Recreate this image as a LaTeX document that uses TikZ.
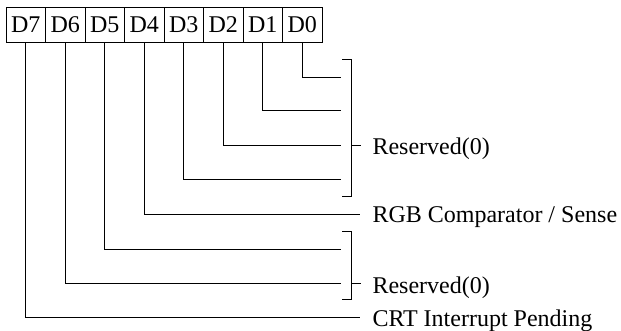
\documentclass[tikz,border=0pt]{standalone}
\usepackage{fontspec}
\setmainfont{Liberation Serif}
\begin{document}
\begin{tikzpicture}[x=1pt,y=-1pt,line width=1pt,
  cell/.style={draw,minimum width=39.5pt,minimum height=35.5pt,inner sep=0pt,font=\fontsize{24}{26}\selectfont},
  lbl/.style={anchor=base west,inner sep=0pt,font=\fontsize{24}{26}\selectfont},
  wire/.style={draw,line width=1pt}]
\useasboundingbox (0,0) rectangle (621,331);
% register cells
\node[cell] (d7) at (25.75,25) {D7};
\node[cell] (d6) at (65.25,25) {D6};
\node[cell] (d5) at (104.75,25) {D5};
\node[cell] (d4) at (144.25,25) {D4};
\node[cell] (d3) at (183.75,25) {D3};
\node[cell] (d2) at (223.25,25) {D2};
\node[cell] (d1) at (262.75,25) {D1};
\node[cell] (d0) at (302.25,25) {D0};
% wire ends
\coordinate (e0) at (341,77.5);
\coordinate (e1) at (341,110.7);
\coordinate (e2) at (341,145.3);
\coordinate (e3) at (341,180);
\coordinate (e4) at (360,214.3);
\coordinate (e5) at (341,249);
\coordinate (e6) at (341,283.5);
\coordinate (e7) at (360,317.5);
\draw[wire] (d0.south) |- (e0);
\draw[wire] (d1.south) |- (e1);
\draw[wire] (d2.south) |- (e2);
\draw[wire] (d3.south) |- (e3);
\draw[wire] (d4.south) |- (e4);
\draw[wire] (d5.south) |- (e5);
\draw[wire] (d6.south) |- (e6);
\draw[wire] (d7.south) |- (e7);
% brackets
\coordinate (b1t) at (351,60);
\coordinate (b1b) at (351,196.7);
\coordinate (b1m) at (351,145.3);
\coordinate (t1) at (361,145.3);
\draw[wire] (342,60) -- (b1t) -- (b1b) -- (342,196.7);
\draw[wire] (b1m) -- (t1);
\coordinate (b2t) at (351,231.7);
\coordinate (b2b) at (351,299.3);
\coordinate (b2m) at (351,283.5);
\coordinate (t2) at (361,283.5);
\draw[wire] (342,231.7) -- (b2t) -- (b2b) -- (342,299.3);
\draw[wire] (b2m) -- (t2);
% labels
\node[lbl] (l1) at (372,155) {Reserved(0)};
\node[lbl] (l2) at (372,222.5) {RGB Comparator / Sense};
\node[lbl] (l3) at (372,293) {Reserved(0)};
\node[lbl] (l4) at (372,326.5) {CRT Interrupt Pending};
\end{tikzpicture}
\end{document}
